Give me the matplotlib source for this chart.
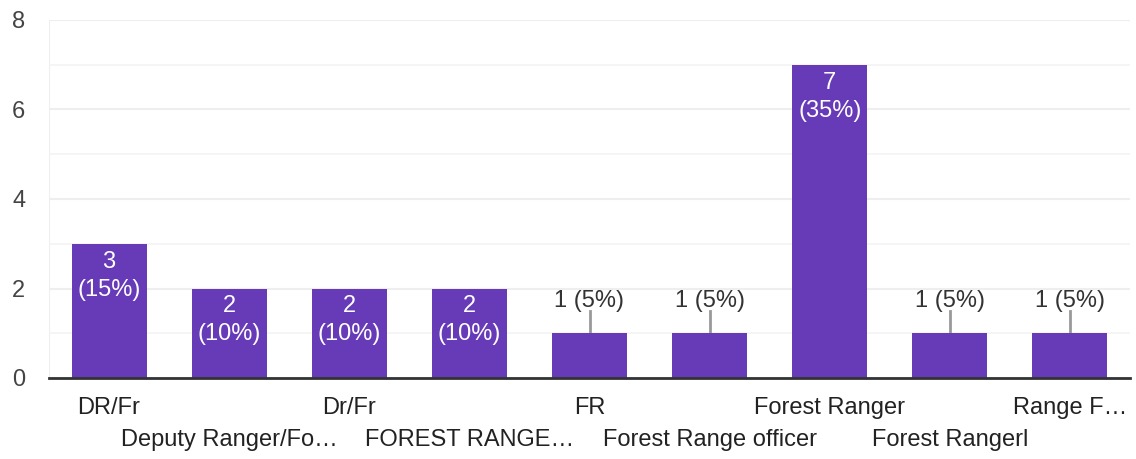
import matplotlib.pyplot as plt
import numpy as np

plt.rcParams['font.family'] = ['Liberation Sans', 'DejaVu Sans']

categories = ['DR/Fr', 'Deputy Ranger/Fo\u2026', 'Dr/Fr', 'FOREST RANGE\u2026', 'FR',
              'Forest Range officer', 'Forest Ranger', 'Forest Rangerl', 'Range F\u2026']
counts = [3, 2, 2, 2, 1, 1, 7, 1, 1]
total = 20

fig = plt.figure(figsize=(11.36, 4.59), dpi=100)
ax = fig.add_axes([49 / 1136, 1 - 378 / 459, 1081 / 1136, 358 / 459])

x = np.arange(len(categories))
ax.bar(x, counts, width=0.625, color='#673ab7', zorder=3)

ax.set_xlim(-0.5, len(categories) - 0.5)
ax.set_ylim(0, 8)
ax.set_yticks([0, 2, 4, 6, 8])
ax.set_yticks([1, 3, 5, 7], minor=True)
ax.grid(axis='y', which='major', color='#eeeeee', linewidth=1.5, zorder=0)
ax.grid(axis='y', which='minor', color='#f3f3f3', linewidth=1.2, zorder=0)
ax.tick_params(axis='y', which='both', length=0, labelsize=17, colors='#444444', pad=17)

for side in ['top', 'right', 'left']:
    ax.spines[side].set_visible(False)
ax.axvline(-0.5, color='#eeeeee', linewidth=1.5, zorder=1)
ax.spines['bottom'].set_color('#333333')
ax.spines['bottom'].set_linewidth(2)
ax.spines['bottom'].set_zorder(4)

ax.set_xticks(x)
ax.set_xticklabels([])
ax.tick_params(axis='x', length=0)
for i, name in enumerate(categories):
    off = -30 if i % 2 == 0 else -62
    ax.annotate(name, (i, 0), xytext=(0, off), textcoords='offset pixels',
                ha='center', va='center', fontsize=17, color='#222222',
                annotation_clip=False)

for i, c in enumerate(counts):
    pct = 100 * c / total
    if c >= 2:
        ax.annotate(f'{c}\n({pct:.0f}%)', (i, c), xytext=(0, -7), textcoords='offset pixels',
                    ha='center', va='top', fontsize=17, color='white',
                    linespacing=1.35, zorder=5)
    else:
        ax.plot([i, i], [c, c + 0.5], color='#999999', linewidth=2, zorder=2)
        ax.annotate(f'{c} ({pct:.0f}%)', (i, c + 0.5), xytext=(0, 4), textcoords='offset pixels',
                    ha='center', va='baseline', fontsize=17, color='#333333', zorder=5)

fig.savefig('out.png', dpi=100)
